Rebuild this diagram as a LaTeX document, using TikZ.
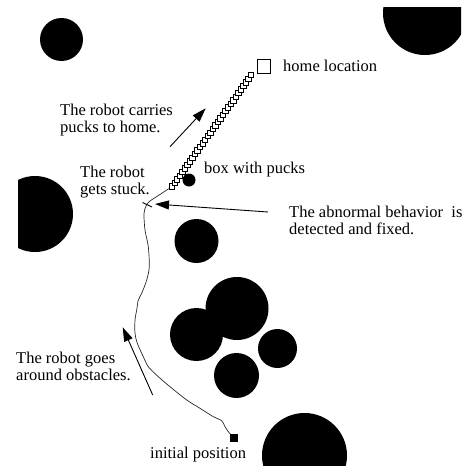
\documentclass[tikz,border=0pt]{standalone}
\usepackage{fontspec}
\setmainfont{Liberation Serif}
\newfontfamily\labelserif{Liberation Serif}
\usetikzlibrary{arrows.meta}
\begin{document}
\begin{tikzpicture}[x=1pt,y=-1pt,
  obst/.style={fill=black},
  lbl/.style={inner sep=0pt,anchor=base west,align=left,font=\labelserif\fontsize{16.5}{16.5}\selectfont},
  puck/.style={draw=black,fill=white,line width=0.7pt,minimum size=5.4pt,inner sep=0pt},
  marker/.style={draw=black,line width=0.9pt,inner sep=0pt},
  pointer/.style={line width=0.9pt,-{Triangle[length=14pt,width=9pt]}},
  trail/.style={line width=0.7pt,black!85}]
\useasboundingbox (0,0) rectangle (461,466);
% obstacles
\begin{scope}
\clip (18,7) rectangle (461,466);
\fill[obst] (61.5,39.5) circle (21.5);
\fill[obst] (425,13) circle (42);
\fill[obst] (35,214) circle (38);
\fill[obst] (196.5,241) circle (22);
\fill[obst] (237,308.5) circle (31.5);
\fill[obst] (196.5,334.5) circle (26.5);
\fill[obst] (277.5,348.5) circle (19.5);
\fill[obst] (236.5,375.5) circle (22.5);
\fill[obst] (304.5,455.5) circle (42.5);
\end{scope}
% trajectory
\coordinate (start) at (233,437);
\coordinate (stuck) at (146.5,205);
\coordinate (pickup) at (171.7,187.7);
\draw[trail] plot[smooth,tension=0.5] coordinates {(233,437) (228.3,431.7) (225,426.7) (221.7,420.7) (213.3,416.7) (200,408.3) (186.7,400) (170,386.7) (158.3,376.7) (148.3,366.7) (143.3,356.7) (137.3,343.3) (135,333.3) (135,320) (136.7,310) (138.3,300) (141.7,293.3) (146.7,280) (149.3,266.7) (148.3,246.7) (145,230) (144,213.3) (146.5,205) (150,201) (155,197.7) (161.7,193.3) (168.3,189) (171.7,187.7)};
\draw[line width=0.9pt] (142.5,202.5) -- (152,207);
% puck chain
\foreach \i in {0,...,31}{
  \node[puck] (p\i) at ({172+\i*(251-172)/31},{186.5+\i*(75-186.5)/31}) {};
}
% box with pucks
\fill (189,180) circle (6.5);
% home and initial
\node[marker,minimum size=13.5pt] (home) at (264,66.5) {};
\node[marker,fill=black,minimum size=7pt] (init) at (233.5,438) {};
% labels (base anchor = baseline of the last line)
\node[lbl] (thome) at (283,71) {home location};
\node[lbl] (tcarry) at (60,132.3) {The robot carries\\pucks to home.};
\node[lbl] (tbox) at (204,173.3) {box with pucks};
\node[lbl] (tstuck) at (80,194.3) {The robot\\gets stuck.};
\node[lbl] (tabn) at (289,234) {The abnormal behavior\ \ is\\detected and fixed.};
\node[lbl] (tgo) at (16,380) {The robot goes\\around obstacles.};
\node[lbl] (tinit) at (150,458) {initial position};
% arrows
\coordinate (a1s) at (170,146.7);
\coordinate (a1e) at (205.7,108.3);
\draw[pointer] (a1s) -- (a1e);
\coordinate (a2s) at (268,212);
\coordinate (a2e) at (155,204);
\draw[pointer] (a2s) -- (a2e);
\coordinate (a3s) at (152.7,395);
\coordinate (a3e) at (122.7,327.3);
\draw[pointer] (a3s) -- (a3e);
\end{tikzpicture}
\end{document}
